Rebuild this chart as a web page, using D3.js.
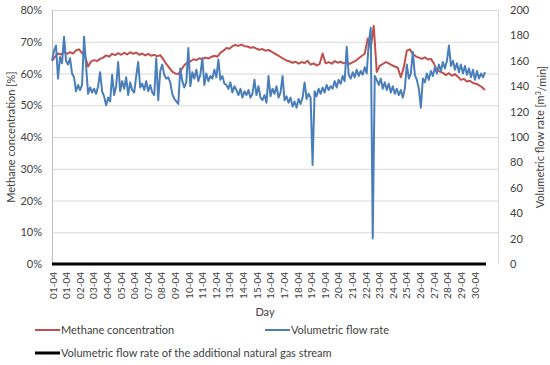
<!DOCTYPE html>
<html>
<head>
<meta charset="utf-8">
<script src="https://cdn.jsdelivr.net/npm/d3@7"></script>
<style>
  html, body { margin: 0; padding: 0; background: #fff; }
  svg { display: block; }
  text { font-family: Lato, "Open Sans", sans-serif; fill: #404040; }
</style>
</head>
<body>
<svg id="chart" width="550" height="365"></svg>
<script>
// ---- data ----
const dayLabels = ["01-04","01-04","02-04","03-04","04-04","05-04","06-04","07-04","08-04","09-04",
  "10-04","11-04","12-04","13-04","14-04","15-04","16-04","17-04","18-04","19-04","19-04",
  "20-04","21-04","22-04","23-04","24-04","25-04","26-04","27-04","28-04","29-04","30-04"];

const leftTicks = [0, 10, 20, 30, 40, 50, 60, 70, 80];
const rightTicks = [0, 20, 40, 60, 80, 100, 120, 140, 160, 180, 200];

// Methane concentration [%]
const methane = [
  64.0,65.2,66.3,66.0,66.8,66.2,66.7,66.3,67.3,67.6,
  66.4,65.5,62.2,63.8,64.2,63.9,64.6,65.0,65.7,65.3,
  66.2,65.8,66.4,65.9,66.5,66.0,66.7,66.2,66.6,65.9,
  66.3,65.7,66.2,65.6,65.9,65.4,65.8,64.5,63.0,61.8,
  60.6,60.0,59.8,61.2,62.6,63.5,63.8,64.5,64.2,64.8,
  64.5,65.0,64.7,65.2,65.6,65.3,66.5,67.2,68.0,67.8,
  68.6,69.0,68.7,69.1,68.6,68.5,68.1,68.3,67.8,67.5,
  67.7,67.2,67.4,66.9,66.3,65.8,65.2,64.6,64.1,63.8,
  63.4,63.7,63.1,63.6,63.3,64.0,62.8,63.2,62.5,63.0,
  66.3,63.2,63.6,63.1,63.9,63.4,63.7,63.2,63.5,63.0,
  63.6,64.0,64.8,65.5,66.2,71.0,68.0,75.0,60.5,62.4,
  63.0,63.6,63.2,62.6,62.2,61.8,58.8,62.0,67.2,67.6,
  66.2,65.4,65.0,64.6,65.1,64.4,64.6,63.2,61.0,60.6,
  60.2,59.5,60.1,59.3,59.8,59.0,58.0,58.3,57.5,57.7,
  57.0,56.8,56.3,55.7,54.8
];

// Volumetric flow rate [m3/min]
const flowRate = [
  160,168,172,146,163,158,179,160,157,162,
  150,147,136,141,137,141,179,156,134,139,
  135,138,134,140,151,136,132,125,131,128,
  149,133,140,159,136,144,138,147,133,143,
  137,135,148,159,139,142,137,144,136,141,
  135,133,162,129,152,157,149,146,147,143,
  134,130,128,126,154,144,139,143,170,140,
  151,146,153,144,149,162,141,150,144,148,
  146,153,147,161,145,148,142,141,138,143,
  135,140,137,133,138,131,136,133,137,131,
  134,145,133,140,131,129,133,127,148,132,
  138,134,140,131,135,148,129,132,127,131,
  124,128,123,130,126,131,143,130,134,131,
  78,136,132,138,134,139,135,141,137,140,
  138,144,139,145,142,148,144,171,149,146,
  151,147,153,148,152,149,155,150,174,186,
  20,148,145,141,146,138,143,137,142,135,
  140,134,138,133,137,131,138,157,146,150,
  167,149,145,138,123,146,143,150,145,152,
  148,155,150,157,152,159,154,160,172,156,
  160,153,158,151,157,150,156,149,154,147,
  153,145,152,146,150,147,151
];

// Volumetric flow rate of the additional natural gas stream [m3/min]
const gasStream = [0,0,0,0,0,0,0,0,0,0,0,0,0,0,0,0,0,0,0,0,0,0,0,0,0,0,0,0,0,0];

// ---- layout ----
const svg = d3.select("#chart");
const L = 52, R = 498, T = 10, B = 264;
const dataL = 52, dataR = 485;

const yLeft = d3.scaleLinear().domain([0, 80]).range([B, T]);
const yRight = d3.scaleLinear().domain([0, 200]).range([B, T]);
const xLab = d3.scalePoint().domain(d3.range(dayLabels.length)).range([53, 475]);
const xData = d3.scaleLinear().domain([0, 1]).range([dataL, dataR]);

// gridlines
svg.append("g").selectAll("line").data(leftTicks.filter(d => d > 0)).join("line")
  .attr("x1", L).attr("x2", R)
  .attr("y1", d => yLeft(d) + 0.5).attr("y2", d => yLeft(d) + 0.5)
  .attr("stroke", "#d9d9d9").attr("stroke-width", 1);

// plot border
svg.append("line").attr("x1", L + 0.5).attr("x2", L + 0.5).attr("y1", T).attr("y2", B)
  .attr("stroke", "#bfbfbf");
svg.append("line").attr("x1", R + 0.5).attr("x2", R + 0.5).attr("y1", T).attr("y2", B)
  .attr("stroke", "#d9d9d9");

// left axis
const axL = d3.axisLeft(yLeft).tickValues(leftTicks).tickSize(0).tickPadding(10)
  .tickFormat(d => d + "%");
const gL = svg.append("g").attr("transform", `translate(${L},0)`).call(axL);
gL.select(".domain").remove();
gL.selectAll("text").style("font-family", "Lato, sans-serif").style("font-size", "11px").attr("fill", "#404040");

// right axis
const axR = d3.axisRight(yRight).tickValues(rightTicks).tickSize(0).tickPadding(12);
const gR = svg.append("g").attr("transform", `translate(${R},0)`).call(axR);
gR.select(".domain").remove();
gR.selectAll("text").style("font-family", "Lato, sans-serif").style("font-size", "11px").attr("fill", "#404040");

// x labels
const gX = svg.append("g");
gX.selectAll("text").data(dayLabels).join("text")
  .attr("transform", (d, i) => `translate(${xLab(i)},272) rotate(-90)`)
  .attr("text-anchor", "end").attr("dy", "0.35em")
  .style("font-size", "10px")
  .text(d => d);

// lines
const lineL = (arr) => d3.line().x((d, i) => xData(i / (arr.length - 1))).y(d => yLeft(d));
const lineR = (arr) => d3.line().x((d, i) => xData(i / (arr.length - 1))).y(d => yRight(d));

svg.append("path").datum(methane).attr("d", lineL(methane))
  .attr("fill", "none").attr("stroke", "#c0504d").attr("stroke-width", 2).attr("stroke-linejoin", "round");
svg.append("path").datum(flowRate).attr("d", lineR(flowRate))
  .attr("fill", "none").attr("stroke", "#4a7ebb").attr("stroke-width", 2).attr("stroke-linejoin", "round");
svg.append("path").datum(gasStream)
  .attr("d", d3.line().x((d, i) => d3.scaleLinear().domain([0, gasStream.length - 1]).range([dataL, dataR + 1])(i)).y(d => yRight(d)))
  .attr("fill", "none").attr("stroke", "#000").attr("stroke-width", 3);

// axis titles
svg.append("text").attr("x", 265).attr("y", 316).attr("text-anchor", "middle")
  .style("font-size", "11px").text("Day");
svg.append("text").attr("transform", "translate(15,137) rotate(-90)").attr("text-anchor", "middle")
  .style("font-size", "11px").text("Methane  concentration [%]");
const rt = svg.append("text").attr("transform", "translate(544,137) rotate(-90)").attr("text-anchor", "middle")
  .style("font-size", "11px");
rt.append("tspan").text("Volumetric flow rate [m");
rt.append("tspan").attr("dy", "-0.4em").style("font-size", "7px").text("3");
rt.append("tspan").attr("dy", "0.4em").text("/min]");

// legend
const legend = [
  { name: "Methane concentration", color: "#c0504d", w: 2, x: 35, y: 330 },
  { name: "Volumetric flow rate", color: "#4a7ebb", w: 2, x: 265, y: 330 },
  { name: "Volumetric flow rate of the additional natural gas stream", color: "#000", w: 3, x: 35, y: 353 }
];
const lg = svg.append("g").selectAll("g").data(legend).join("g");
lg.append("line").attr("x1", d => d.x).attr("x2", d => d.x + 25)
  .attr("y1", d => d.y).attr("y2", d => d.y)
  .attr("stroke", d => d.color).attr("stroke-width", d => d.w);
lg.append("text").attr("x", d => d.x + 26).attr("y", d => d.y).attr("dy", "0.35em")
  .style("font-size", "11px").text(d => d.name);
</script>
</body>
</html>
